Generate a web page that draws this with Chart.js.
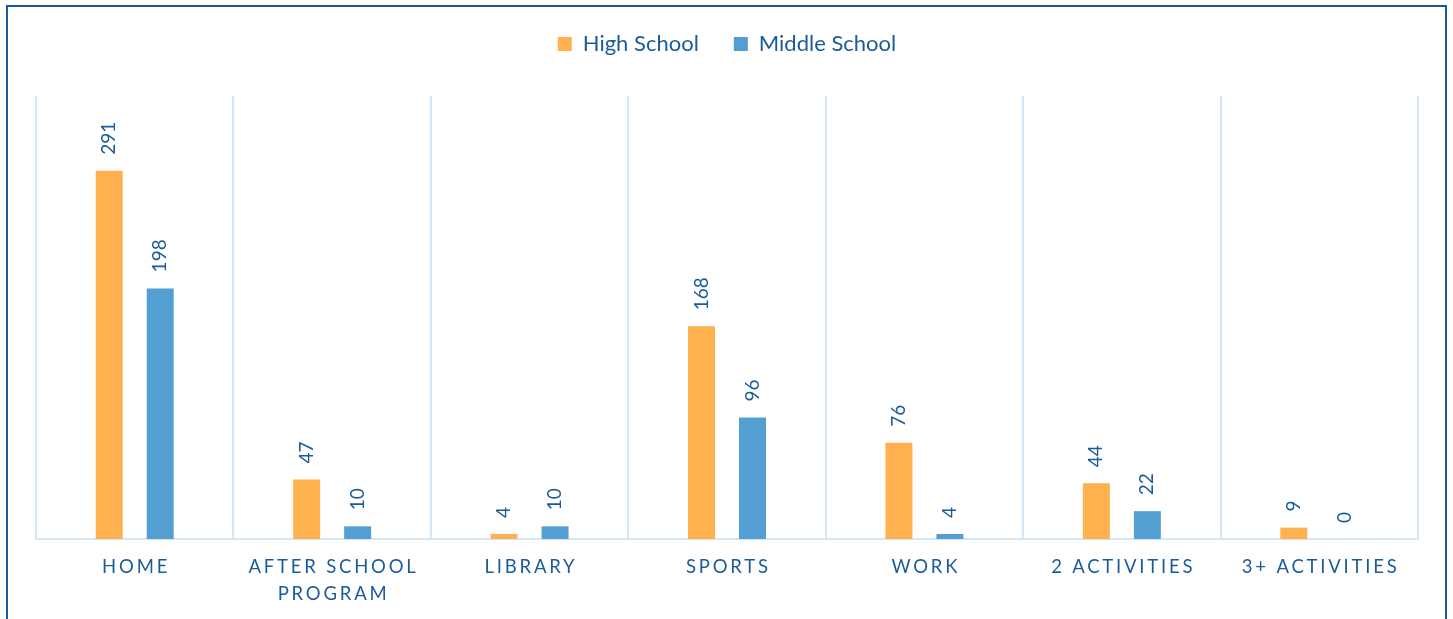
<!DOCTYPE html>
<html>
<head>
<meta charset="utf-8">
<script src="https://cdn.jsdelivr.net/npm/chart.js@4/dist/chart.umd.min.js"></script>
<style>
  html, body { margin: 0; padding: 0; background: #ffffff; overflow: hidden; }
  #wrap { position: relative; width: 1453px; height: 619px; }
  #frame {
    position: absolute; left: 6px; top: 5px; width: 1437px; height: 660px;
    border: 2px solid #165a99; border-bottom: none; pointer-events: none;
  }
</style>
</head>
<body>
<div id="wrap">
  <canvas id="chart" width="1453" height="619"></canvas>
  <div id="frame"></div>
</div>
<script>
// Where students spend their after-school hours, by school level
const categories = ['HOME', ['AFTER SCHOOL', 'PROGRAM'], 'LIBRARY', 'SPORTS', 'WORK', '2 ACTIVITIES', '3+ ACTIVITIES'];
const highSchool = [291, 47, 4, 168, 76, 44, 9];
const middleSchool = [198, 10, 10, 96, 4, 22, 0];
const seriesNames = ['High School', 'Middle School'];
const yMin = 0;
const yMax = 350;

const TEXT = '#1b5c98';
const GRID = '#d4e7f8';
const ORANGE = '#ffb14f';
const BLUE = '#539fd2';
const FONT = 'Lato';
const TICK_SPACING = 2.8;

// Category axis whose labels are drawn with extra letter spacing
class SpacedCategoryScale extends Chart.CategoryScale {
  drawLabels(area) {
    const ctx = this.ctx;
    ctx.save();
    ctx.letterSpacing = TICK_SPACING + 'px';
    ctx.translate(TICK_SPACING / 2, 0);
    super.drawLabels(area);
    ctx.restore();
  }
}
SpacedCategoryScale.id = 'spacedCategory';
SpacedCategoryScale.defaults = Chart.CategoryScale.defaults;
Chart.register(SpacedCategoryScale);

// Rotated value labels above each bar
const barValueLabels = {
  id: 'barValueLabels',
  afterDatasetsDraw(chart) {
    const ctx = chart.ctx;
    ctx.save();
    ctx.font = '19px ' + FONT;
    ctx.fillStyle = TEXT;
    ctx.textAlign = 'left';
    ctx.textBaseline = 'middle';
    chart.data.datasets.forEach((ds, i) => {
      chart.getDatasetMeta(i).data.forEach((bar, j) => {
        ctx.save();
        ctx.translate(bar.x, bar.y - 16);
        ctx.rotate(-Math.PI / 2);
        ctx.fillText(String(ds.data[j]), 0, 0);
        ctx.restore();
      });
    });
    ctx.restore();
  }
};

// Leave room between the legend row and the plot area
const legendGap = {
  id: 'legendGap',
  beforeLayout(chart) {
    const lg = chart.legend;
    if (lg && !lg._gapPatched) {
      const fit = lg.fit;
      lg.fit = function () { fit.call(this); this.height = 98; };
      lg._gapPatched = true;
    }
  }
};

function build() {
  new Chart(document.getElementById('chart'), {
    type: 'bar',
    data: {
      labels: categories,
      datasets: [
        { label: seriesNames[0], data: highSchool, backgroundColor: ORANGE, borderWidth: 0 },
        { label: seriesNames[1], data: middleSchool, backgroundColor: BLUE, borderWidth: 0 }
      ]
    },
    options: {
      responsive: false,
      animation: false,
      devicePixelRatio: 1,
      categoryPercentage: 0.5166,
      barPercentage: 0.529,
      layout: { padding: { left: 36, right: 35, top: -2, bottom: 0 } },
      plugins: {
        legend: {
          position: 'top',
          align: 'center',
          labels: {
            boxWidth: 14,
            boxHeight: 14,
            padding: 35,
            color: TEXT,
            font: { family: FONT, size: 22 }
          }
        },
        tooltip: { enabled: false }
      },
      scales: {
        x: {
          type: 'spacedCategory',
          offset: true,
          grid: { display: true, offset: true, color: GRID, lineWidth: 2, drawTicks: false },
          border: { display: true, color: GRID, width: 2 },
          ticks: {
            color: TEXT,
            padding: 15,
            maxRotation: 0,
            autoSkip: false,
            font: { family: FONT, size: 18.5, lineHeight: 1.46 }
          },
          afterFit(scale) { scale.height = 80; }
        },
        y: {
          display: false,
          min: yMin,
          max: yMax
        }
      }
    },
    plugins: [barValueLabels, legendGap]
  });
}

document.fonts.load('22px ' + FONT).then(build, build);
</script>
</body>
</html>
